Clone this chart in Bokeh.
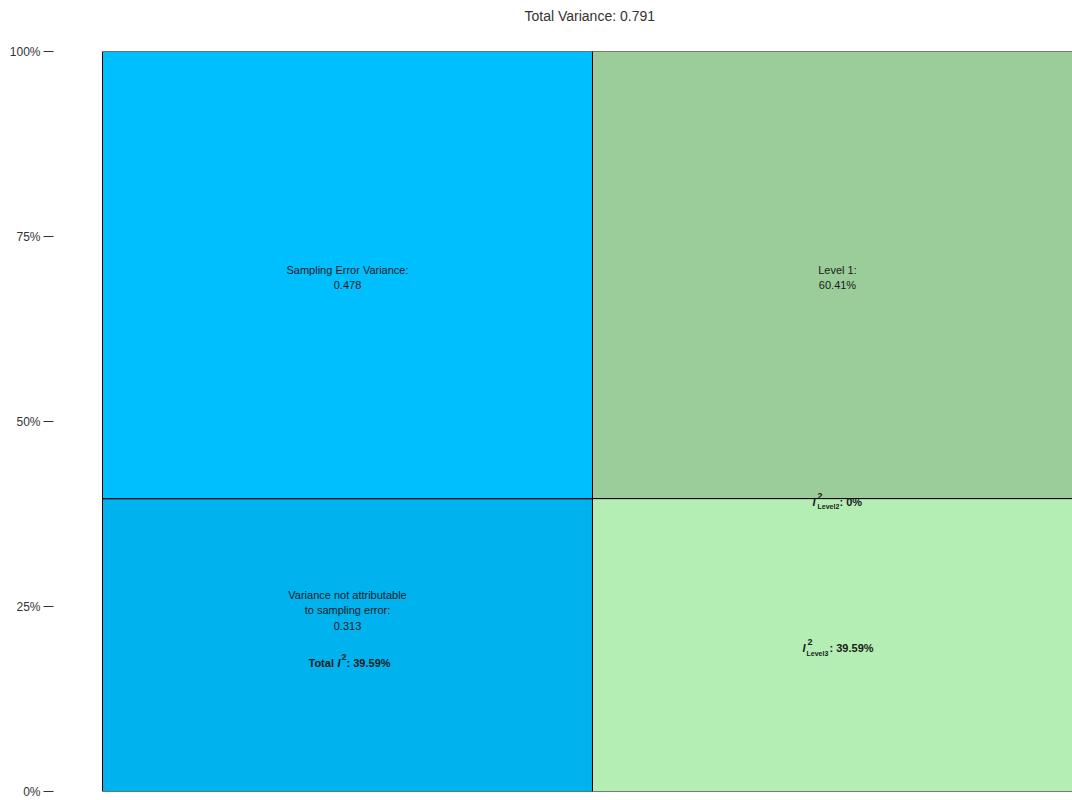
from bokeh.plotting import figure
from bokeh.models import Range1d, NumeralTickFormatter, FixedTicker, Title
from bokeh.core.properties import value
from bokeh.embed import file_html
from bokeh.resources import INLINE

# ---- data ----
total_variance = 0.791
left_parts = ["Variance not attributable to sampling error", "Sampling Error Variance"]
left_values = [0.313, 0.478]
left_colors = ["#00B2EE", "#00BFFF"]
right_levels = ["Level 3", "Level 2", "Level 1"]
right_pct = [39.59, 0.0, 60.41]
right_colors = ["#B4EEB4", "#A8DEA8", "#9BCD9B"]
y_ticks = [0, 0.25, 0.5, 0.75, 1.0]

FONT = "Liberation Sans"
TXT = "#1a1a1a"

p = figure(width=1072, height=800, output_backend="svg", toolbar_location=None,
           x_range=Range1d(-0.1, 1.9796), y_range=Range1d(0, 1),
           x_axis_location=None, min_border_left=53, min_border_right=0,
           min_border_top=50, min_border_bottom=9)
p.outline_line_color = None
p.xgrid.visible = False
p.ygrid.visible = False
p.background_fill_color = "white"

# spacer between frame and title, then the title itself
spacer = Title(text=" ", text_font_size="1px", standoff=20, text_color="white")
p.add_layout(spacer, "above")
t = Title(text=f"Total Variance: {total_variance:.3f}", align="left", offset=471,
          text_font=FONT, text_font_size="14px", text_font_style="normal",
          text_color="#333333", standoff=10)
p.add_layout(t, "above")

# left column (variance shares)
lb, lt = [], []
acc = 0.0
for v in left_values:
    lb.append(acc / total_variance)
    acc += v
    lt.append(acc / total_variance)
p.quad(left=[0, 0], right=[1, 1], bottom=lb, top=lt, fill_color=left_colors,
       line_color="black", line_width=1)

# right column (levels)
rb, rt = [], []
acc = 0.0
for v in right_pct:
    rb.append(acc / 100)
    acc += v
    rt.append(acc / 100)
p.quad(left=[1, 1, 1], right=[2, 2, 2], bottom=rb, top=rt, fill_color=right_colors,
       line_color="black", line_width=1)

# y axis
ax = p.yaxis[0]
ax.ticker = FixedTicker(ticks=y_ticks)
ax.formatter = NumeralTickFormatter(format="0%")
ax.axis_line_color = None
ax.major_tick_out = 10
ax.major_tick_in = 0
ax.minor_tick_out = 0
ax.minor_tick_in = 0
ax.major_tick_line_color = "#333333"
ax.major_label_standoff = 3
ax.major_label_text_font = FONT
ax.major_label_text_font_size = "12px"
ax.major_label_text_color = "#333333"


def txt(x, y, s, dx=0, dy=0, size="11px", style="normal", align="center"):
    p.text(x=[x], y=[y], text=[s], x_offset=dx, y_offset=dy,
           text_font=value(FONT), text_font_size=size, text_font_style=style,
           text_color=TXT, text_align=align, text_baseline="middle")


lc = 0.5
rc = 1.5
top_left_mid = (lb[1] + lt[1]) / 2
bot_left_mid = (lb[0] + lt[0]) / 2
txt(lc, top_left_mid, "Sampling Error Variance:", dy=-5)
txt(lc, top_left_mid, f"{left_values[1]:.3f}", dy=10)
txt(lc, bot_left_mid, "Variance not attributable", dy=-50)
txt(lc, bot_left_mid, "to sampling error:", dy=-35)
txt(lc, bot_left_mid, f"{left_values[0]:.3f}", dy=-19)
# Total I^2
txt(lc, bot_left_mid, "Total ", dx=-39, dy=18, style="bold", align="left")
txt(lc, bot_left_mid, "I", dx=-10, dy=18, style="bold italic", align="left")
txt(lc, bot_left_mid, "2", dx=-6, dy=12, size="9px", style="bold", align="left")
txt(lc, bot_left_mid, f": {right_pct[0]:.2f}%", dx=-1, dy=18, style="bold", align="left")

top_right_mid = (rb[2] + rt[2]) / 2
txt(rc, top_right_mid, "Level 1:", dy=-5)
txt(rc, top_right_mid, f"{right_pct[2]:.2f}%", dy=10)

# I^2 Level2
y2 = (rb[1] + rt[1]) / 2
txt(rc, y2, "I", dx=-25, dy=3, style="bold italic", align="left")
txt(rc, y2, "2", dx=-20, dy=-3, size="9px", style="bold", align="left")
txt(rc, y2, "Level2", dx=-20, dy=8, size="7px", style="bold", align="left")
txt(rc, y2, f": {right_pct[1]:g}%", dx=2, dy=3, style="bold", align="left")

# I^2 Level3
y3 = (rb[0] + rt[0]) / 2
txt(rc, y3, "I", dx=-35, dy=3, style="bold italic", align="left")
txt(rc, y3, "2", dx=-30, dy=-3, size="9px", style="bold", align="left")
txt(rc, y3, "Level3", dx=-31, dy=8, size="7px", style="bold", align="left")
txt(rc, y3, f": {right_pct[0]:.2f}%", dx=-8, dy=3, style="bold", align="left")

open("out.html", "w").write(file_html(p, INLINE))
